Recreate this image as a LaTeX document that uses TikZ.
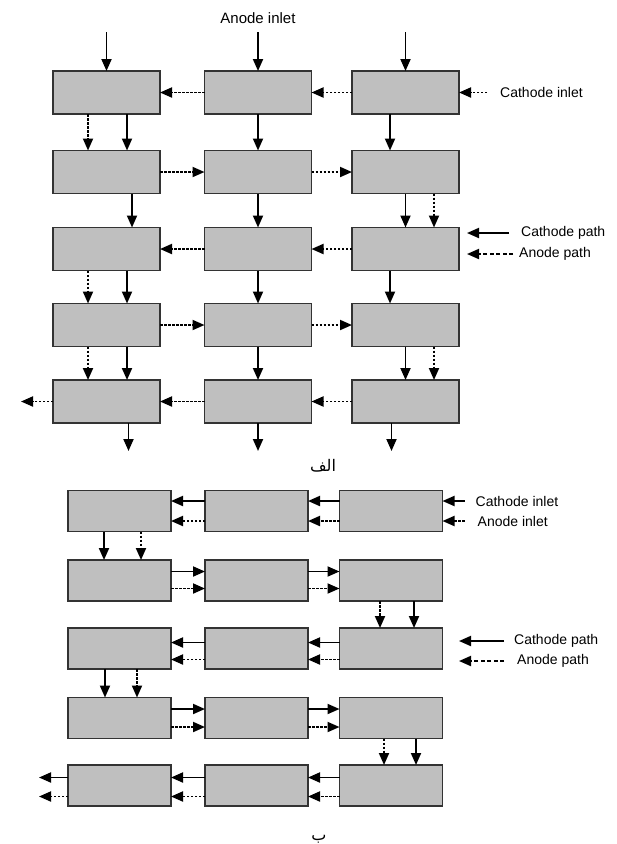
\documentclass[tikz,border=0pt]{standalone}
\usepackage{fontspec}
\setmainfont{Liberation Sans}
\newfontfamily\arabicfont[Script=Arabic]{DejaVu Sans}
\TeXXeTstate=1
\usetikzlibrary{positioning, arrows.meta}
\tikzset{
	cell/.style={
		rectangle, draw=black!80, fill=black!25,
		line width=1.6pt, outer sep=0pt, inner sep=0pt,
		minimum width=107pt, minimum height=43pt,
	},
	cellb/.style={cell, minimum width=103pt, minimum height=41pt},
	line/.style={
		draw, line width=1.9pt, -{Triangle[length=12pt,width=10pt]},
	},
	dline/.style={line, dash pattern=on 2.5pt off 1.5pt},
	lline/.style={line, dash pattern=on 4pt off 2.5pt},
	lbl/.style={font=\fontsize{14}{16}\selectfont, inner sep=0pt},
}
\begin{document}
\begin{tikzpicture}[x=1pt, y=-1pt]
	\useasboundingbox (0,0) rectangle (617,844);
	
	% upper diagram
	\foreach \r/\y in {1/92.5,2/172,3/249,4/325,5/401.5}
		\foreach \c/\x in {1/106.5,2/258,3/405.5}
			\node [cell] (a\r\c) at (\x,\y) {};
	
	\foreach \c in {1,2,3}
		\coordinate (top\c) at ([yshift=39pt]a1\c.north);
	\foreach \c in {1,2,3}
		\path [line] (top\c) -- (a1\c.north);
	\node [lbl, font=\fontsize{15}{17}\selectfont, above=8pt of top2] (anin) {Anode inlet};
	\coordinate (cin) at ([xshift=28pt]a13.east);
	\path [dline] (cin) -- (a13.east);
	\node [lbl, right=13pt of cin] (cinl) {Cathode inlet};
	
	\path [dline] (a12) -- (a11);
	\path [dline] (a13) -- (a12);
	\path [dline] (a21) -- (a22);
	\path [dline] (a22) -- (a23);
	\path [dline] (a32) -- (a31);
	\path [dline] (a33) -- (a32);
	\path [dline] (a41) -- (a42);
	\path [dline] (a42) -- (a43);
	\path [dline] (a52) -- (a51);
	\path [dline] (a53) -- (a52);
	\coordinate (aout) at ([xshift=-32pt]a51.west);
	\path [dline] (a51) -- (aout);
	
	\path [dline] ([xshift=-18.5pt]a11.south) -- ([xshift=-18.5pt]a21.north);
	\path [line] ([xshift=20.5pt]a11.south) -- ([xshift=20.5pt]a21.north);
	\path [line] (a12) -- (a22);
	\path [line] ([xshift=-15.5pt]a13.south) -- ([xshift=-15.5pt]a23.north);
	
	\path [line] ([xshift=25.5pt]a21.south) -- ([xshift=25.5pt]a31.north);
	\path [line] (a22) -- (a32);
	\path [line] (a23) -- (a33);
	\path [dline] ([xshift=28.5pt]a23.south) -- ([xshift=28.5pt]a33.north);
	
	\path [dline] ([xshift=-18.5pt]a31.south) -- ([xshift=-18.5pt]a41.north);
	\path [line] ([xshift=20.5pt]a31.south) -- ([xshift=20.5pt]a41.north);
	\path [line] (a32) -- (a42);
	\path [line] ([xshift=-15.5pt]a33.south) -- ([xshift=-15.5pt]a43.north);
	
	\path [dline] ([xshift=-18.5pt]a41.south) -- ([xshift=-18.5pt]a51.north);
	\path [line] ([xshift=20.5pt]a41.south) -- ([xshift=20.5pt]a51.north);
	\path [line] (a42) -- (a52);
	\path [line] (a43) -- (a53);
	\path [dline] ([xshift=28.5pt]a43.south) -- ([xshift=28.5pt]a53.north);
	
	\coordinate (bot1) at ([xshift=22pt,yshift=-28pt]a51.south);
	\coordinate (bot2) at ([yshift=-28pt]a52.south);
	\coordinate (bot3) at ([xshift=-14pt,yshift=-28pt]a53.south);
	\path [line] ([xshift=22pt]a51.south) -- (bot1);
	\path [line] (a52.south) -- (bot2);
	\path [line] ([xshift=-14pt]a53.south) -- (bot3);
	
	% legend
	\coordinate (lca) at (509,233);
	\coordinate (lcb) at (467,233);
	\coordinate (laa) at (513,254);
	\coordinate (lab) at (467,254);
	\path [line] (lca) -- (lcb);
	\path [lline] (laa) -- (lab);
	\node [lbl, right=12pt of lca] (lcp) {Cathode path};
	\node [lbl, right=6pt of laa] (lap) {Anode path};
	
	\node [font=\arabicfont\fontsize{16}{18}\selectfont, inner sep=0pt] (capa) at (323,466) {\beginR الف\endR};
	
	% lower diagram
	\foreach \r/\y in {1/511,2/580.5,3/648.5,4/718,5/785.5}
		\foreach \c/\x in {1/119.5,2/256.5,3/391}
			\node [cellb] (b\r\c) at (\x,\y) {};
	
	\coordinate (bci) at ([xshift=22pt,yshift=10pt]b13.east);
	\coordinate (bai) at ([xshift=22pt,yshift=-10pt]b13.east);
	\path [line] (bci) -- ([yshift=10pt]b13.east);
	\path [dline] (bai) -- ([yshift=-10pt]b13.east);
	\node [lbl, right=11pt of bci] (bcil) {Cathode inlet};
	\node [lbl, right=13pt of bai] (bail) {Anode inlet};
	
	\path [line] ([yshift=10pt]b12.west) -- ([yshift=10pt]b11.east);
	\path [dline] ([yshift=-10pt]b12.west) -- ([yshift=-10pt]b11.east);
	\path [line] ([yshift=10pt]b13.west) -- ([yshift=10pt]b12.east);
	\path [dline] ([yshift=-10pt]b13.west) -- ([yshift=-10pt]b12.east);
	
	\path [line] ([yshift=9pt]b21.east) -- ([yshift=9pt]b22.west);
	\path [dline] ([yshift=-8pt]b21.east) -- ([yshift=-8pt]b22.west);
	\path [line] ([yshift=9pt]b22.east) -- ([yshift=9pt]b23.west);
	\path [dline] ([yshift=-8pt]b22.east) -- ([yshift=-8pt]b23.west);
	
	\path [line] ([yshift=6pt]b32.west) -- ([yshift=6pt]b31.east);
	\path [dline] ([yshift=-11pt]b32.west) -- ([yshift=-11pt]b31.east);
	\path [line] ([yshift=6pt]b33.west) -- ([yshift=6pt]b32.east);
	\path [dline] ([yshift=-11pt]b33.west) -- ([yshift=-11pt]b32.east);
	
	\path [line] ([yshift=9pt]b41.east) -- ([yshift=9pt]b42.west);
	\path [dline] ([yshift=-9pt]b41.east) -- ([yshift=-9pt]b42.west);
	\path [line] ([yshift=9pt]b42.east) -- ([yshift=9pt]b43.west);
	\path [dline] ([yshift=-9pt]b42.east) -- ([yshift=-9pt]b43.west);
	
	\path [line] ([yshift=8pt]b52.west) -- ([yshift=8pt]b51.east);
	\path [dline] ([yshift=-11pt]b52.west) -- ([yshift=-11pt]b51.east);
	\path [line] ([yshift=8pt]b53.west) -- ([yshift=8pt]b52.east);
	\path [dline] ([yshift=-11pt]b53.west) -- ([yshift=-11pt]b52.east);
	\coordinate (bco) at ([xshift=-29pt,yshift=8pt]b51.west);
	\coordinate (bao) at ([xshift=-29pt,yshift=-11pt]b51.west);
	\path [line] ([yshift=8pt]b51.west) -- (bco);
	\path [dline] ([yshift=-11pt]b51.west) -- (bao);
	
	\path [line] ([xshift=-15.5pt]b11.south) -- ([xshift=-15.5pt]b21.north);
	\path [dline] ([xshift=21.5pt]b11.south) -- ([xshift=21.5pt]b21.north);
	\path [dline] ([xshift=-11pt]b23.south) -- ([xshift=-11pt]b33.north);
	\path [line] ([xshift=23pt]b23.south) -- ([xshift=23pt]b33.north);
	\path [line] ([xshift=-14.5pt]b31.south) -- ([xshift=-14.5pt]b41.north);
	\path [dline] ([xshift=17.5pt]b31.south) -- ([xshift=17.5pt]b41.north);
	\path [dline] ([xshift=-7pt]b43.south) -- ([xshift=-7pt]b53.north);
	\path [line] ([xshift=25pt]b43.south) -- ([xshift=25pt]b53.north);
	
	% legend
	\coordinate (mca) at (504,641);
	\coordinate (mcb) at (459,641);
	\coordinate (maa) at (504,661);
	\coordinate (mab) at (459,661);
	\path [line] (mca) -- (mcb);
	\path [lline] (maa) -- (mab);
	\node [lbl, right=10pt of mca] (mcp) {Cathode path};
	\node [lbl, right=13pt of maa] (map) {Anode path};
	
	\node [font=\arabicfont\fontsize{16}{18}\selectfont, inner sep=0pt, anchor=base] (capb) at (319,840) {ب};
\end{tikzpicture}
\end{document}
